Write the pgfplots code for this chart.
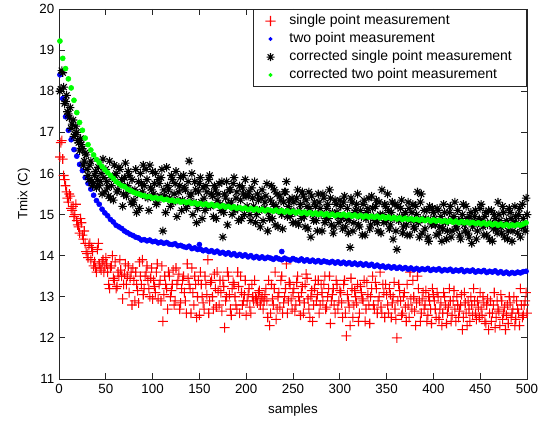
\documentclass[border=0pt]{standalone}
\usepackage{fontspec}
\setmainfont{Liberation Sans}
\usepackage{pgfplots}
\pgfplotsset{compat=1.18}

% MATLAB-style '*' marker: plus and cross on top of each other
\pgfdeclareplotmark{mstar}{%
  \pgfpathmoveto{\pgfqpoint{-\pgfplotmarksize}{0pt}}\pgfpathlineto{\pgfqpoint{\pgfplotmarksize}{0pt}}%
  \pgfpathmoveto{\pgfqpoint{0pt}{-\pgfplotmarksize}}\pgfpathlineto{\pgfqpoint{0pt}{\pgfplotmarksize}}%
  \pgfpathmoveto{\pgfqpoint{-.707\pgfplotmarksize}{-.707\pgfplotmarksize}}\pgfpathlineto{\pgfqpoint{.707\pgfplotmarksize}{.707\pgfplotmarksize}}%
  \pgfpathmoveto{\pgfqpoint{-.707\pgfplotmarksize}{.707\pgfplotmarksize}}\pgfpathlineto{\pgfqpoint{.707\pgfplotmarksize}{-.707\pgfplotmarksize}}%
  \pgfusepathqstroke}
% '+' built from two filled bars (fill colour survives where stroke colour did not)
\pgfdeclareplotmark{fplus}{%
  \pgfpathrectangle{\pgfqpoint{-\pgfplotmarksize}{-0.4pt}}{\pgfqpoint{2\pgfplotmarksize}{0.8pt}}%
  \pgfpathrectangle{\pgfqpoint{-0.4pt}{-\pgfplotmarksize}}{\pgfqpoint{0.8pt}{2\pgfplotmarksize}}%
  \pgfusepathqfill}
\pgfplotsset{legimg/.style={legend image code/.code={%
  \path (0pt,0pt) (15pt,0pt); \draw[##1, mark size=#1] plot coordinates {(3.25pt,0pt)};}}}

\begin{document}
\begin{tikzpicture}
\begin{axis}[
    scale only axis, width=351pt, height=277.5pt,
    xmin=0, xmax=500, ymin=11, ymax=20,
    xtick={0,50,...,500}, ytick={11,12,...,20},
    /pgf/number format/assume math mode=true,
    tick label style={font=\fontsize{10}{12}\selectfont},
    label style={font=\fontsize{10}{12}\selectfont},
    xlabel={samples}, ylabel={Tmix (C)},
    x label style={at={(axis description cs:0.5,-0.084)}, anchor=center},
    y label style={at={(axis description cs:-0.075,0.5)}, anchor=center},
    tick align=inside, major tick length=4.5pt,
    axis line style={black!85, line width=0.6pt}, tick style={black!85, line width=0.6pt},
    clip=false,
    legend cell align=left,
    legend style={at={(1,1)}, anchor=north east, draw=black!85, line width=0.6pt,
      font=\fontsize{10.5}{12.6}\selectfont, fill=white, inner xsep=9pt, inner ysep=2pt,
      nodes={inner sep=2pt, text height=0.75em, text depth=0.2em}},
  ]
\addplot[only marks, color=red, mark=fplus, mark size=3.7pt,
  mark options={solid, draw=none, fill=red}, legimg=3.8pt] coordinates {
(1,16.4)(3,16.8)(5,15.95)(7,15.7)(9,15.4)(11,15.5)(13,15.15)(15,15.2)(17,15.0)(19,14.85)(21,14.7)(23,14.9)(25,14.5)(27,14.6)(29,14.1)(31,13.95)(33,14.3)(35,14.2)(37,13.75)(39,13.7)(41,14.15)(43,13.8)(45,13.65)(47,13.9)(49,13.75)
(51,13.8)(53,13.3)(55,13.7)(57,14.0)(59,13.4)(61,13.2)(63,13.6)(65,13.9)(67,13.5)(69,13.3)(71,13.8)(73,13.5)(75,13.1)(77,13.6)(79,13.7)(81,12.9)(83,13.3)(85,12.85)(87,13.5)(89,13.9)(91,13.2)(93,13.6)(95,13.4)(97,13.0)(99,13.7)
(101,13.4)(103,13.1)(105,13.8)(107,13.3)(109,12.9)(111,12.4)(113,13.5)(115,13.2)(117,13.6)(119,13.0)(121,13.3)(123,12.8)(125,13.7)(127,13.4)(129,12.7)(131,13.2)(133,13.5)(135,12.9)(137,13.8)(139,13.3)(141,12.6)(143,13.1)(145,13.5)(147,12.5)(149,13.4)
(151,13.6)(153,13.0)(155,12.7)(157,13.3)(159,13.9)(161,12.9)(163,13.4)(165,12.7)(167,13.2)(169,13.6)(171,12.8)(173,13.1)(175,13.4)(177,12.25)(179,13.0)(181,13.5)(183,12.7)(185,13.2)(187,13.3)(189,12.8)(191,13.6)(193,12.6)(195,13.1)(197,12.9)(199,13.4)
(201,12.9)(203,13.2)(205,12.6)(207,13.0)(209,13.4)(211,12.95)(213,13.1)(215,12.8)(217,13.0)(219,12.9)(221,13.2)(223,12.5)(225,12.3)(227,13.3)(229,12.8)(231,13.6)(233,12.7)(235,13.1)(237,13.4)(239,12.6)(241,13.0)(243,13.8)(245,12.9)(247,13.3)(249,12.7)
(251,13.2)(253,12.8)(255,13.5)(257,12.9)(259,13.1)(261,12.6)(263,13.3)(265,13.45)(267,12.7)(269,13.0)(271,12.4)(273,13.2)(275,12.9)(277,13.4)(279,12.8)(281,13.1)(283,13.3)(285,12.7)(287,13.0)(289,13.5)(291,12.9)(293,13.2)(295,12.6)(297,13.3)(299,12.9)
(301,13.1)(303,12.5)(305,13.4)(307,12.05)(309,12.9)(311,12.3)(313,13.2)(315,12.8)(317,13.0)(319,13.3)(321,12.6)(323,13.1)(325,12.9)(327,12.4)(329,13.35)(331,12.8)(333,13.0)(335,13.5)(337,12.7)(339,13.2)(341,12.9)(343,13.6)(345,12.6)(347,13.1)(349,13.3)
(351,12.8)(353,13.2)(355,12.5)(357,13.0)(359,12.7)(361,12.0)(363,13.3)(365,12.9)(367,12.6)(369,13.1)(371,12.4)(373,12.8)(375,13.6)(377,12.7)(379,13.0)(381,12.3)(383,13.5)(385,12.9)(387,12.6)(389,13.1)(391,12.8)(393,12.4)(395,13.0)(397,12.7)(399,13.2)
(401,12.9)(403,12.5)(405,13.0)(407,12.7)(409,12.3)(411,13.1)(413,12.8)(415,12.6)(417,13.2)(419,12.4)(421,12.9)(423,12.7)(425,13.0)(427,12.5)(429,12.8)(431,12.2)(433,13.1)(435,12.6)(437,12.9)(439,12.4)(441,12.8)(443,13.2)(445,12.6)(447,12.9)(449,12.5)
(451,12.7)(453,13.0)(455,12.4)(457,12.8)(459,12.2)(461,12.9)(463,12.6)(465,13.1)(467,12.5)(469,12.7)(471,12.3)(473,12.9)(475,12.6)(477,12.2)(479,12.8)(481,13.0)(483,12.5)(485,12.7)(487,12.3)(489,12.9)(491,12.6)(493,13.2)(495,12.5)(497,12.8)(499,13.1)
(2,16.75)(4,16.35)(6,15.85)(8,15.55)(10,15.3)(12,15.45)(14,15.1)(16,14.95)(18,15.25)(20,14.75)(22,14.55)(24,14.8)(26,14.4)(28,14.3)(30,14.05)(32,14.25)(34,13.9)(36,14.1)(38,13.85)(40,13.6)(42,14.3)(44,13.7)(46,13.85)(48,13.6)(50,13.95)
(52,13.6)(54,13.2)(56,13.75)(58,13.45)(60,13.85)(62,13.25)(64,13.5)(66,13.65)(68,12.95)(70,13.55)(72,13.3)(74,13.75)(76,13.45)(78,12.8)(80,13.4)(82,13.6)(84,13.15)(86,13.85)(88,13.3)(90,13.05)(92,13.5)(94,13.75)(96,13.2)(98,13.45)(100,12.95)
(102,13.25)(104,13.6)(106,12.95)(108,13.4)(110,13.75)(112,13.05)(114,13.3)(116,12.7)(118,13.5)(120,13.15)(122,13.65)(124,12.9)(126,13.3)(128,13.55)(130,12.85)(132,13.4)(134,13.1)(136,12.6)(138,13.45)(140,13.2)(142,13.7)(144,12.8)(146,13.3)(148,13.0)(150,12.55)
(152,13.3)(154,12.85)(156,13.5)(158,13.05)(160,12.6)(162,13.35)(164,13.0)(166,13.55)(168,12.75)(170,13.15)(172,13.4)(174,12.65)(176,13.25)(178,12.9)(180,13.6)(182,13.05)(184,12.55)(186,13.35)(188,13.0)(190,12.7)(192,13.25)(194,13.5)(196,12.8)(198,13.05)(200,12.55)
(202,13.05)(204,12.75)(206,13.3)(208,12.9)(210,13.0)(212,12.85)(214,13.15)(216,12.95)(218,12.7)(220,13.05)(222,12.9)(224,13.4)(226,12.6)(228,12.95)(230,13.2)(232,12.45)(234,13.0)(236,12.75)(238,13.5)(240,12.85)(242,13.2)(244,12.6)(246,13.35)(248,12.95)(250,13.1)
(252,12.65)(254,13.35)(256,13.0)(258,12.55)(260,13.25)(262,12.85)(264,13.55)(266,12.95)(268,12.5)(270,13.15)(272,12.8)(274,13.4)(276,13.05)(278,12.6)(280,13.3)(282,12.9)(284,13.5)(286,12.75)(288,13.2)(290,12.35)(292,13.05)(294,12.8)(296,13.4)(298,12.7)(300,13.15)
(302,12.85)(304,13.3)(306,12.6)(308,13.05)(310,12.75)(312,13.45)(314,12.5)(316,13.15)(318,12.85)(320,12.4)(322,13.25)(324,12.95)(326,13.4)(328,12.7)(330,13.05)(332,12.35)(334,13.2)(336,12.8)(338,13.35)(340,12.6)(342,13.0)(344,12.75)(346,13.3)(348,12.5)(350,13.05)
(352,12.6)(354,13.05)(356,12.85)(358,13.35)(360,12.45)(362,12.9)(364,13.15)(366,12.55)(368,13.0)(370,12.75)(372,13.3)(374,12.5)(376,12.95)(378,13.4)(380,12.65)(382,12.85)(384,13.2)(386,12.4)(388,12.95)(390,12.7)(392,13.15)(394,12.55)(396,12.9)(398,12.35)(400,13.05)
(402,12.7)(404,13.1)(406,12.45)(408,12.85)(410,12.6)(412,13.0)(414,12.35)(416,12.75)(418,12.9)(420,12.55)(422,13.15)(424,12.4)(426,12.8)(428,12.65)(430,13.05)(432,12.5)(434,12.85)(436,12.3)(438,12.7)(440,13.0)(442,12.55)(444,12.9)(446,12.45)(448,12.75)(450,13.1)
(452,12.55)(454,12.85)(456,12.35)(458,12.95)(460,12.6)(462,12.4)(464,12.8)(466,12.25)(468,12.9)(470,12.65)(472,13.05)(474,12.45)(476,12.75)(478,12.55)(480,12.35)(482,12.85)(484,12.6)(486,13.0)(488,12.45)(490,12.7)(492,12.3)(494,12.8)(496,12.55)(498,12.9)(500,12.6)
};
\addlegendentry{single point measurement}
\addplot[only marks, color=blue, mark=*, mark size=1.9pt, mark options={draw=none, fill=blue}, legimg=1.2pt] coordinates {
(1,18.40)(4,17.82)(7,17.38)(10,17.05)(13,16.82)(16,16.58)(19,16.42)(22,16.22)(25,16.07)(28,15.90)(31,15.76)(34,15.62)(37,15.47)(40,15.34)(43,15.25)(46,15.13)(49,15.04)
(52,14.97)(55,14.88)(58,14.82)(61,14.74)(64,14.70)(67,14.66)(70,14.60)(73,14.56)(76,14.52)(79,14.49)(82,14.45)(85,14.43)(88,14.38)(91,14.39)(94,14.36)(97,14.38)
(100,14.34)(103,14.35)(106,14.31)(109,14.33)(112,14.30)(115,14.32)(118,14.28)(121,14.27)(124,14.29)(127,14.24)(130,14.25)(133,14.22)(136,14.20)(139,14.23)(142,14.17)(145,14.19)(148,14.15)(150,14.27)
(151,14.16)(154,14.12)(157,14.14)(160,14.10)(163,14.12)(166,14.08)(169,14.11)(172,14.06)(175,14.08)(178,14.04)(181,14.07)(184,14.02)(187,14.05)(190,14.00)(193,14.03)(196,13.99)(199,14.02)
(202,13.97)(205,14.00)(208,13.95)(211,13.98)(214,13.94)(217,13.97)(220,13.93)(223,13.96)(226,13.94)(229,13.91)(232,13.95)(235,13.92)(238,14.10)(238,13.90)(241,13.94)(244,13.91)(247,13.89)(250,13.93)
(253,13.90)(256,13.88)(259,13.92)(262,13.87)(265,13.90)(268,13.86)(271,13.89)(274,13.85)(277,13.88)(280,13.84)(283,13.87)(286,13.85)(289,13.83)(292,13.86)(295,13.82)(298,13.85)
(301,13.81)(304,13.84)(307,13.80)(310,13.83)(313,13.79)(316,13.82)(319,13.78)(322,13.81)(325,13.77)(328,13.80)(331,13.76)(334,13.79)(337,13.74)(340,13.77)(343,13.73)(346,13.75)(349,13.71)
(352,13.74)(355,13.70)(358,13.73)(361,13.69)(364,13.72)(367,13.68)(370,13.71)(373,13.67)(376,13.70)(379,13.66)(382,13.69)(385,13.65)(388,13.68)(391,13.66)(394,13.69)(397,13.64)(400,13.67)
(403,13.65)(406,13.68)(409,13.63)(412,13.66)(415,13.64)(418,13.67)(421,13.62)(424,13.65)(427,13.63)(430,13.66)(433,13.61)(436,13.64)(439,13.62)(442,13.65)(445,13.60)(448,13.63)
(451,13.61)(454,13.64)(457,13.59)(460,13.62)(463,13.60)(466,13.63)(469,13.58)(472,13.61)(475,13.57)(478,13.60)(481,13.56)(484,13.59)(487,13.57)(490,13.60)(493,13.58)(496,13.61)(499,13.62)
};
\addlegendentry{two point measurement}
\addplot[only marks, color=black, mark=mstar, mark size=3.2pt, line width=0.8pt,
  mark options={solid}, legimg=3pt] coordinates {
(1,18.0)(3,18.5)(5,18.1)(7,17.75)(9,17.5)(11,17.35)(13,17.1)(15,17.3)(17,16.95)(19,17.0)(21,16.75)(23,16.85)(25,16.6)(27,16.3)(29,16.45)(31,15.95)(33,16.2)(35,15.8)(37,15.75)(39,16.05)(41,15.85)(43,15.7)(45,16.0)(47,16.35)(49,15.55)
(51,15.8)(53,15.45)(55,15.4)(57,15.9)(59,16.2)(61,16.0)(63,15.6)(65,16.1)(67,15.85)(69,15.5)(71,16.25)(73,15.7)(75,15.95)(77,15.3)(79,15.25)(81,15.6)(83,15.05)(85,15.8)(87,16.0)(89,15.55)(91,15.7)(93,16.1)(95,15.4)(97,16.2)(99,15.6)
(101,15.5)(103,16.0)(105,15.3)(107,15.75)(109,15.9)(111,14.6)(113,15.45)(115,16.15)(117,15.6)(119,15.2)(121,15.85)(123,15.5)(125,16.05)(127,15.35)(129,15.7)(131,15.1)(133,15.95)(135,15.6)(137,15.25)(139,16.3)(141,15.5)(143,15.0)(145,15.8)(147,14.8)(149,15.55)
(151,15.9)(153,14.9)(155,15.4)(157,15.7)(159,15.2)(161,15.95)(163,15.5)(165,14.95)(167,15.6)(169,15.35)(171,15.75)(173,15.1)(175,14.45)(177,15.5)(179,15.8)(181,15.25)(183,15.6)(185,15.0)(187,15.9)(189,15.4)(191,15.15)(193,15.7)(195,14.9)(197,15.5)(199,15.85)
(201,15.2)(203,15.55)(205,14.85)(207,15.4)(209,15.8)(211,15.0)(213,15.35)(215,14.7)(217,15.6)(219,15.15)(221,15.45)(223,14.6)(225,14.9)(227,15.7)(229,15.25)(231,14.75)(233,15.5)(235,15.1)(237,15.35)(239,14.65)(241,15.55)(243,15.8)(245,15.2)(247,14.95)(249,15.4)
(251,15.3)(253,14.8)(255,15.6)(257,15.1)(259,14.9)(261,15.45)(263,14.7)(265,15.2)(267,15.55)(269,14.45)(271,15.0)(273,15.3)(275,14.85)(277,15.5)(279,15.15)(281,14.6)(283,15.4)(285,14.9)(287,15.25)(289,15.6)(291,14.75)(293,14.55)(295,15.35)(297,15.05)(299,14.8)
(301,15.2)(303,14.65)(305,15.45)(307,14.9)(309,14.55)(311,14.2)(313,15.3)(315,14.8)(317,15.1)(319,15.5)(321,14.7)(323,14.95)(325,15.25)(327,14.5)(329,15.05)(331,15.4)(333,14.75)(335,15.15)(337,14.85)(339,15.35)(341,14.6)(343,15.0)(345,15.6)(347,14.8)(349,15.2)
(351,15.5)(353,14.65)(355,15.05)(357,14.4)(359,15.25)(361,14.15)(363,14.85)(365,15.15)(367,14.55)(369,14.95)(371,14.75)(373,15.3)(375,14.5)(377,15.05)(379,14.7)(381,15.2)(383,15.55)(385,14.45)(387,15.5)(389,14.9)(391,14.65)(393,15.1)(395,14.35)(397,14.85)(399,15.15)
(401,14.9)(403,14.5)(405,15.1)(407,14.7)(409,14.35)(411,15.25)(413,14.8)(415,14.6)(417,15.05)(419,14.45)(421,14.9)(423,15.3)(425,14.65)(427,14.85)(429,14.4)(431,15.0)(433,14.75)(435,15.2)(437,14.55)(439,14.95)(441,14.3)(443,14.8)(445,15.1)(447,14.6)(449,14.9)
(451,15.25)(453,14.7)(455,14.95)(457,14.5)(459,15.1)(461,14.8)(463,14.35)(465,15.0)(467,14.65)(469,15.3)(471,14.85)(473,14.55)(475,15.05)(477,14.75)(479,14.4)(481,15.15)(483,14.9)(485,14.6)(487,15.2)(489,14.8)(491,15.0)(493,14.45)(495,15.25)(497,14.7)(499,15.4)
(2,18.05)(4,18.45)(6,17.7)(8,17.9)(10,17.45)(12,17.6)(14,17.2)(16,16.9)(18,17.15)(20,16.8)(22,16.55)(24,16.7)(26,16.2)(28,16.5)(30,16.1)(32,15.85)(34,16.3)(36,15.7)(38,15.95)(40,15.65)(42,16.15)(44,15.8)(46,15.5)(48,15.9)(50,16.1)
(52,15.65)(54,16.3)(56,15.7)(58,15.35)(60,15.95)(62,15.55)(64,16.15)(66,15.75)(68,15.2)(70,15.9)(72,15.45)(74,16.05)(76,15.6)(78,15.85)(80,15.35)(82,16.1)(84,15.5)(86,15.15)(88,15.75)(90,16.2)(92,15.45)(94,15.85)(96,15.1)(98,15.65)(100,16.05)
(102,15.75)(104,15.25)(106,15.85)(108,15.45)(110,16.1)(112,15.6)(114,15.05)(116,15.7)(118,15.4)(120,15.95)(122,15.3)(124,15.75)(126,14.95)(128,15.55)(130,15.9)(132,15.35)(134,15.65)(136,15.15)(138,15.8)(140,15.45)(142,16.0)(144,15.3)(146,15.6)(148,15.15)(150,15.75)
(152,15.3)(154,15.65)(156,15.1)(158,15.55)(160,15.85)(162,15.2)(164,15.45)(166,15.7)(168,14.9)(170,15.5)(172,15.25)(174,15.8)(176,15.05)(178,15.4)(180,14.75)(182,15.6)(184,15.3)(186,15.75)(188,15.1)(190,15.55)(192,14.85)(194,15.35)(196,15.65)(198,15.0)(200,15.45)
(202,15.45)(204,15.0)(206,15.65)(208,15.2)(210,14.8)(212,15.5)(214,15.1)(216,15.4)(218,14.85)(220,15.3)(222,15.75)(224,15.05)(226,15.35)(228,14.9)(230,15.6)(232,15.2)(234,14.7)(236,15.45)(238,15.0)(240,15.3)(242,15.55)(244,14.95)(246,15.35)(248,15.1)(250,14.8)
(252,15.05)(254,15.4)(256,14.75)(258,15.25)(260,15.55)(262,14.95)(264,15.35)(266,14.65)(268,15.15)(270,15.45)(272,14.85)(274,15.2)(276,14.6)(278,15.3)(280,15.0)(282,15.5)(284,14.8)(286,15.15)(288,14.9)(290,15.4)(292,15.05)(294,14.7)(296,15.25)(298,14.95)(300,15.35)
(302,14.9)(304,15.3)(306,14.7)(308,15.15)(310,14.85)(312,15.4)(314,14.6)(316,15.05)(318,15.25)(320,14.75)(322,15.1)(324,14.5)(326,15.35)(328,14.9)(330,15.15)(332,14.65)(334,15.45)(336,14.95)(338,15.2)(340,14.8)(342,15.3)(344,14.55)(346,15.0)(348,15.25)(350,14.85)
(352,15.1)(354,14.75)(356,15.3)(358,14.9)(360,14.6)(362,15.2)(364,14.95)(366,15.35)(368,14.7)(370,15.05)(372,14.5)(374,15.15)(376,14.85)(378,15.25)(380,14.65)(382,15.0)(384,14.8)(386,15.3)(388,14.55)(390,15.1)(392,14.9)(394,14.45)(396,15.2)(398,14.75)(400,15.05)
(402,14.75)(404,15.15)(406,14.55)(408,14.95)(410,14.65)(412,15.05)(414,14.4)(416,14.85)(418,15.2)(420,14.6)(422,14.95)(424,14.7)(426,15.1)(428,14.5)(430,14.85)(432,15.25)(434,14.6)(436,14.9)(438,14.45)(440,15.05)(442,14.7)(444,14.95)(446,14.4)(448,14.8)(450,15.15)
(452,14.85)(454,14.5)(456,15.05)(458,14.75)(460,14.4)(462,15.1)(464,14.65)(466,14.9)(468,14.55)(470,15.0)(472,14.7)(474,15.2)(476,14.45)(478,14.85)(480,14.6)(482,15.05)(484,14.35)(486,14.8)(488,14.95)(490,14.55)(492,15.15)(494,14.7)(496,14.9)(498,14.6)(500,15.0)
};
\addlegendentry{corrected single point measurement}
\addplot[only marks, color=green, mark=*, mark size=1.9pt, mark options={draw=none, fill=green}, legimg=1.2pt] coordinates {
(1,19.22)(4,18.80)(7,18.55)(10,18.30)(13,18.08)(16,17.78)(19,17.48)(22,17.24)(25,17.05)(28,16.86)(31,16.70)(34,16.57)(37,16.45)(40,16.34)(43,16.26)(46,16.17)(49,16.09)
(52,16.02)(55,15.95)(58,15.88)(61,15.80)(64,15.75)(67,15.70)(70,15.68)(73,15.62)(76,15.59)(79,15.55)(82,15.52)(85,15.50)(88,15.47)(91,15.46)(94,15.43)(97,15.44)
(100,15.40)(103,15.41)(106,15.38)(109,15.40)(112,15.36)(115,15.37)(118,15.34)(121,15.35)(124,15.32)(127,15.34)(130,15.30)(133,15.32)(136,15.29)(139,15.31)(142,15.27)(145,15.29)(148,15.25)
(151,15.27)(154,15.24)(157,15.26)(160,15.22)(163,15.25)(166,15.21)(169,15.23)(172,15.19)(175,15.22)(178,15.18)(181,15.20)(184,15.16)(187,15.19)(190,15.15)(193,15.17)(196,15.14)(199,15.16)
(202,15.12)(205,15.15)(208,15.11)(211,15.14)(214,15.10)(217,15.13)(220,15.09)(223,15.12)(226,15.10)(229,15.08)(232,15.11)(235,15.07)(238,15.10)(241,15.06)(244,15.09)(247,15.05)(250,15.08)
(253,15.04)(256,15.07)(259,15.03)(262,15.06)(265,15.02)(268,15.05)(271,15.01)(274,15.04)(277,15.00)(280,15.03)(283,14.99)(286,15.02)(289,14.98)(292,15.01)(295,14.97)(298,15.00)
(301,14.98)(304,15.01)(307,14.97)(310,15.00)(313,14.96)(316,14.99)(319,14.95)(322,14.98)(325,14.94)(328,14.97)(331,14.94)(334,14.96)(337,14.93)(340,14.96)(343,14.92)(346,14.95)(349,14.91)
(352,14.94)(355,14.90)(358,14.93)(361,14.89)(364,14.92)(367,14.88)(370,14.91)(373,14.88)(376,14.90)(379,14.87)(382,14.89)(385,14.86)(388,14.89)(391,14.85)(394,14.88)(397,14.84)(400,14.87)
(403,14.84)(406,14.86)(409,14.83)(412,14.85)(415,14.82)(418,14.85)(421,14.81)(424,14.84)(427,14.80)(430,14.83)(433,14.80)(436,14.82)(439,14.79)(442,14.81)(445,14.78)(448,14.80)
(451,14.77)(454,14.80)(457,14.76)(460,14.79)(463,14.75)(466,14.78)(469,14.74)(472,14.77)(475,14.73)(478,14.76)(481,14.72)(484,14.75)(487,14.73)(490,14.76)(493,14.74)(496,14.77)(499,14.80)
};
\addlegendentry{corrected two point measurement}
\end{axis}
\pgfresetboundingbox
\path[use as bounding box] ([shift={(-44.25pt,-31.5pt)}]current axis.south west) rectangle ([shift={(14.25pt,6.75pt)}]current axis.north east);
\end{tikzpicture}
\end{document}
